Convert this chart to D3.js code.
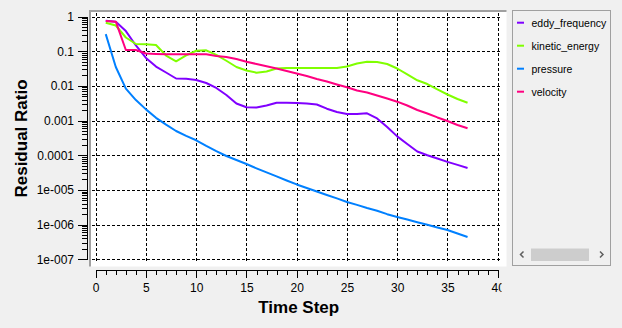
<!DOCTYPE html>
<html>
<head>
<meta charset="utf-8">
<script src="https://cdn.jsdelivr.net/npm/d3@7/dist/d3.min.js"></script>
<style>
  html, body { margin: 0; padding: 0; background: #f0f0f0; }
  svg { display: block; }
  text { font-family: "Liberation Sans", Arial, sans-serif; }
</style>
</head>
<body>
<svg id="chart" width="622" height="328"></svg>
<script>
// Residual history per time step (log scale)
const steps = [1,2,3,4,5,6,7,8,9,10,11,12,13,14,15,16,17,18,19,20,21,22,23,24,25,26,27,28,29,30,31,32,33,34,35,36,37];

const eddyFrequency = [0.75,0.71,0.38,0.146,0.064,0.036,0.0243,0.0163,0.016,0.0148,0.0121,0.0087,0.00546,0.0031,0.00241,0.00238,0.00272,0.00327,0.00327,0.00321,0.0031,0.0029,0.0022,0.00177,0.00155,0.00155,0.00162,0.00115,0.00065,0.00035,0.000211,0.000128,0.0000997,0.0000807,0.0000644,0.0000528,0.000043];

const kineticEnergy = [0.66,0.55,0.248,0.161,0.158,0.151,0.075,0.051,0.076,0.103,0.106,0.0787,0.053,0.035,0.0277,0.024,0.026,0.0317,0.0328,0.0328,0.0328,0.0328,0.0328,0.0328,0.0362,0.0442,0.0498,0.0488,0.0427,0.0317,0.0213,0.0145,0.0113,0.00787,0.00564,0.00418,0.00327];

const pressure = [0.31,0.035,0.0083,0.0039,0.0021,0.0012,0.00076,0.0005,0.00036,0.00027,0.000187,0.000132,0.000095,0.000073,0.000056,0.000042,0.000032,0.0000245,0.0000187,0.0000144,0.0000114,0.000009,0.00000715,0.0000057,0.0000045,0.0000037,0.000003,0.0000025,0.000002,0.00000166,0.0000014,0.00000117,0.00000099,0.00000083,0.0000007,0.000000555,0.00000044];

const velocity = [0.74,0.71,0.108,0.108,0.0858,0.083,0.0813,0.0813,0.0813,0.0813,0.0813,0.0727,0.068,0.0596,0.0498,0.0427,0.0367,0.0317,0.0268,0.0227,0.0193,0.0158,0.0134,0.011,0.00916,0.00736,0.00645,0.00528,0.00433,0.0035,0.00272,0.00202,0.0016,0.00123,0.00097,0.000746,0.000598];

const seriesNames = ["eddy_frequency", "kinetic_energy", "pressure", "velocity"];
const seriesValues = [eddyFrequency, kineticEnergy, pressure, velocity];
const seriesColors = ["#8000ff", "#80ff00", "#0080ff", "#ff0080"];

const xTicks = [0, 5, 10, 15, 20, 25, 30, 35, 40];
const yTicks = [1, 0.1, 0.01, 0.001, 0.0001, 1e-5, 1e-6, 1e-7];
const yTickLabels = ["1", "0.1", "0.01", "0.001", "0.0001", "1e-005", "1e-006", "1e-007"];

const svg = d3.select("#chart");

const x = d3.scaleLinear().domain([0, 40]).range([95.7, 497.7]);
const y = d3.scaleLog().domain([1e-7, 1]).range([259.3, 16.5]);

// Plot canvas with a sunken border
svg.append("rect").attr("x", 90).attr("y", 11).attr("width", 416.5).attr("height", 255.5)
  .attr("fill", "#ffffff");
svg.append("path")
  .attr("d", "M90,266.5 V11 H506.5")
  .attr("fill", "none").attr("stroke", "#a0a0a0").attr("stroke-width", 2);

// Dashed grid
const grid = svg.append("g").attr("shape-rendering", "crispEdges")
  .attr("stroke", "#000").attr("stroke-width", 1).attr("stroke-dasharray", "3,2");
grid.selectAll("line.h").data(yTicks).join("line")
  .attr("x1", 92).attr("x2", 500)
  .attr("y1", d => Math.round(y(d)) + 0.5).attr("y2", d => Math.round(y(d)) + 0.5);
grid.selectAll("line.v").data(xTicks).join("line")
  .attr("y1", 13).attr("y2", 261)
  .attr("x1", d => Math.round(x(d)) + 0.5).attr("x2", d => Math.round(x(d)) + 0.5);

// Series lines
const line = d3.line()
  .x((d, i) => x(steps[i]))
  .y(d => y(d));

svg.append("g").selectAll("path").data(seriesValues).join("path")
  .attr("d", d => line(d))
  .attr("fill", "none")
  .attr("stroke", (d, i) => seriesColors[i])
  .attr("stroke-width", 2)
  .attr("stroke-linejoin", "round");

// Clip for the bottom axis labels at the splitter
svg.append("clipPath").attr("id", "axisClip")
  .append("rect").attr("x", 0).attr("y", 0).attr("width", 501.5).attr("height", 328);

// X axis: minor ticks every step, major every 5
const xAxisG = svg.append("g").attr("transform", "translate(0,269.5)").attr("clip-path", "url(#axisClip)");
xAxisG.append("g")
  .call(d3.axisBottom(x).tickValues(d3.range(0, 41)).tickSize(5).tickSizeOuter(0).tickFormat(""))
  .call(g => g.select(".domain").remove());
xAxisG.append("g")
  .call(d3.axisBottom(x).tickValues(xTicks).tickSize(8).tickSizeOuter(0).tickPadding(5.5))
  .call(g => g.selectAll("text").attr("font-size", 12).attr("fill", "#000")
    .attr("font-family", "'Liberation Sans', Arial, sans-serif"));
xAxisG.selectAll("line, path").attr("stroke", "#000").attr("shape-rendering", "crispEdges");

// Y axis: log scale with minor ticks
const minorY = [];
for (let e = -7; e < 0; e++) {
  for (let k = 2; k <= 9; k++) minorY.push(k * Math.pow(10, e));
}
const yAxisG = svg.append("g").attr("transform", "translate(86.5,0)");
yAxisG.append("g")
  .call(d3.axisLeft(y).tickValues(minorY).tickSize(5).tickSizeOuter(0).tickFormat(""))
  .call(g => g.select(".domain").remove());
yAxisG.append("g")
  .call(d3.axisLeft(y).tickValues(yTicks).tickSize(9).tickSizeOuter(0).tickPadding(3.5)
    .tickFormat((d, i) => yTickLabels[i]))
  .call(g => g.selectAll("text").attr("font-size", 12).attr("fill", "#000")
    .attr("font-family", "'Liberation Sans', Arial, sans-serif"));
yAxisG.selectAll("line, path").attr("stroke", "#000").attr("shape-rendering", "crispEdges");

// Axis titles
svg.append("text").attr("x", 298.7).attr("y", 313)
  .attr("text-anchor", "middle").attr("font-size", 17).attr("font-weight", "bold")
  .text("Time Step");
svg.append("text").attr("transform", "translate(27,138.5) rotate(-90)")
  .attr("text-anchor", "middle").attr("font-size", 17).attr("font-weight", "bold")
  .text("Residual Ratio");

// Legend panel
const legend = svg.append("g");
legend.append("rect").attr("x", 512.5).attr("y", 10.5).attr("width", 98).attr("height", 255)
  .attr("fill", "#f0f0f0").attr("stroke", "#a0a0a0");
const items = legend.selectAll("g.item").data(seriesNames).join("g")
  .attr("transform", (d, i) => `translate(0,${22.7 + i * 23})`);
items.append("line").attr("x1", 517).attr("x2", 524).attr("y1", 0).attr("y2", 0)
  .attr("stroke", (d, i) => seriesColors[i]).attr("stroke-width", 2);
items.append("text").attr("x", 531.5).attr("y", 3.8)
  .attr("font-size", 10.5).attr("fill", "#000").text(d => d);

// Horizontal scrollbar at the bottom of the legend
legend.append("rect").attr("x", 531).attr("y", 248.5).attr("width", 58).attr("height", 12.5)
  .attr("fill", "#cdcdcd");
legend.append("path").attr("d", "M523.5,251.5 L520.5,254.5 L523.5,257.5")
  .attr("fill", "none").attr("stroke", "#606060").attr("stroke-width", 1.5);
legend.append("path").attr("d", "M600,251.5 L603,254.5 L600,257.5")
  .attr("fill", "none").attr("stroke", "#606060").attr("stroke-width", 1.5);
</script>
</body>
</html>
